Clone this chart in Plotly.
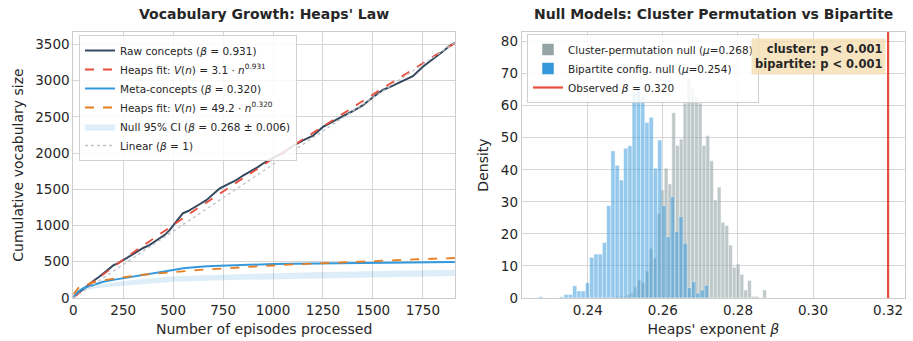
import numpy as np
import plotly.graph_objects as go

# ---------------- data: left panel ----------------
raw_n = [1, 25, 50, 75, 100, 130, 150, 181, 200, 225, 250, 275, 300, 314, 350, 381, 400, 431,
         460, 482, 515, 548, 575, 599, 630, 666, 700, 732, 775, 816, 850, 883, 920, 950, 1000,
         1050, 1100, 1150, 1200, 1250, 1300, 1350, 1400, 1450, 1500, 1550, 1600, 1650, 1700,
         1750, 1800, 1850, 1880, 1910]
raw_v = [15, 70, 130, 185, 235, 293, 340, 409, 450, 480, 523, 570, 615, 638, 690, 730, 765, 822,
         875, 937, 1051, 1167, 1200, 1236, 1290, 1350, 1430, 1511, 1570, 1626, 1690, 1740, 1800,
         1856, 1935, 2000, 2100, 2175, 2240, 2360, 2440, 2510, 2580, 2660, 2770, 2870, 2930,
         2990, 3060, 3190, 3290, 3400, 3470, 3520]

meta_n = [1, 25, 50, 100, 150, 200, 250, 300, 350, 400, 450, 500, 550, 600, 650, 700, 750, 800,
          900, 1000, 1100, 1200, 1300, 1400, 1500, 1600, 1700, 1800, 1910]
meta_v = [10, 90, 135, 185, 225, 250, 271, 295, 320, 340, 362, 386, 410, 425, 435, 442, 447, 452,
          464, 468, 472, 476, 480, 483, 486, 488, 490, 492, 495]

fit_raw = (3.1, 0.931)    # V(n) = a * n^b
fit_meta = (49.2, 0.320)

band_n = [1, 25, 50, 100, 200, 300, 500, 750, 1000, 1250, 1500, 1750, 1910]
band_lo = [10, 70, 100, 130, 160, 185, 225, 245, 260, 275, 288, 298, 305]
band_hi = [20, 100, 135, 170, 215, 250, 300, 325, 342, 358, 372, 383, 390]

# ---------------- data: right panel ----------------
cluster_bin_start = 0.24724
cluster_bin_w = 0.001009
cluster_density = [0.5, 0.5, 0.5, 1.0, 1.7, 3.5, 5.6, 4.8, 8.4, 15.5, 12.4, 26.4, 33.7, 40.5,
                   35.6, 57.8, 47.6, 49.6, 60.8, 68.6, 65.4, 62.6, 60.8, 47.6, 50.6, 42.8, 30.6,
                   34.6, 23.6, 22.6, 16.5, 9.6, 10.6, 7.4, 2.5, 5.5, 0.5, 0.5, 0.0, 2.5]

bip_bin_start = 0.22690
bip_bin_w = 0.001132
bip_density = [0.4, 0, 0, 0, 0, 0.4, 1.1, 1.1, 3.8, 2.2, 2.2, 4.8, 12.7, 13.7, 13.7, 17.3,
               28.8, 45.9, 41.4, 36.8, 46.7, 47.5, 63.9, 65.4, 62.8, 54.8, 56.4, 40.5, 49.3,
               28.8, 19.1, 31.6, 20.7, 25.4, 17.1, 3.2, 5.1, 1.5, 2.5, 4.0]

observed_beta = 0.320
x_ticks_right = [0.24, 0.26, 0.28, 0.30, 0.32]
x_ticks_left = [0, 250, 500, 750, 1000, 1250, 1500, 1750]

# ---------------- figure ----------------
W, H = 913, 341
TXT = "#262626"
GRID = "#d5d5d5"
FONT = "DejaVu Sans"

fig = go.Figure()

n_arr = np.array(raw_n, dtype=float)
fit_raw_v = fit_raw[0] * n_arr ** fit_raw[1]
n_meta_arr = np.array(meta_n, dtype=float)
fit_meta_v = fit_meta[0] * n_meta_arr ** fit_meta[1]

# raw
fig.add_trace(go.Scatter(x=raw_n, y=raw_v, mode="lines", line=dict(color="#34495e", width=2),
                         name="Raw concepts (<i>β</i> = 0.931)", legend="legend",
                         xaxis="x", yaxis="y"))
fig.add_trace(go.Scatter(x=raw_n, y=fit_raw_v, mode="lines",
                         line=dict(color="#e74c3c", width=1.8, dash="dash"),
                         name="Heaps fit: <i>V</i>(<i>n</i>) = 3.1 · <i>n</i><sup>0.931</sup>",
                         legend="legend", xaxis="x", yaxis="y"))
# meta
fig.add_trace(go.Scatter(x=meta_n, y=meta_v, mode="lines", line=dict(color="#3498db", width=2),
                         name="Meta-concepts (<i>β</i> = 0.320)", legend="legend",
                         xaxis="x", yaxis="y"))
fig.add_trace(go.Scatter(x=meta_n, y=fit_meta_v, mode="lines",
                         line=dict(color="#e67e22", width=1.8, dash="dash"),
                         name="Heaps fit: <i>V</i>(<i>n</i>) = 49.2 · <i>n</i><sup>0.320</sup>",
                         legend="legend", xaxis="x", yaxis="y"))
# null band
fig.add_trace(go.Scatter(x=band_n, y=band_lo, mode="lines", line=dict(width=0, color="rgba(52,152,219,0)"),
                         showlegend=False, hoverinfo="skip", xaxis="x", yaxis="y"))
fig.add_trace(go.Scatter(x=band_n, y=band_hi, mode="lines", line=dict(width=0, color="rgba(52,152,219,0)"),
                         fill="tonexty", fillcolor="rgba(52,152,219,0.16)",
                         name="Null 95% CI (<i>β</i> = 0.268 ± 0.006)",
                         legend="legend", xaxis="x", yaxis="y"))
# linear
fig.add_trace(go.Scatter(x=[0, raw_n[-1]], y=[0, raw_v[-1]], mode="lines",
                         line=dict(color="#bdc3c7", width=1.3, dash="dot"),
                         name="Linear (<i>β</i> = 1)", legend="legend", xaxis="x", yaxis="y"))

# histograms
cl_x = [cluster_bin_start + (i + 0.5) * cluster_bin_w for i in range(len(cluster_density))]
bp_x = [bip_bin_start + (i + 0.5) * bip_bin_w for i in range(len(bip_density))]
fig.add_trace(go.Bar(x=cl_x, y=cluster_density, width=cluster_bin_w,
                     marker=dict(color="#95a5a6", opacity=0.6, line=dict(color="white", width=0.5)),
                     name="Cluster-permutation null (<i>μ</i>=0.268)", legend="legend2",
                     xaxis="x2", yaxis="y2"))
fig.add_trace(go.Bar(x=bp_x, y=bip_density, width=bip_bin_w,
                     marker=dict(color="#3498db", opacity=0.52, line=dict(color="white", width=0.5)),
                     name="Bipartite config. null (<i>μ</i>=0.254)", legend="legend2",
                     xaxis="x2", yaxis="y2"))
fig.add_trace(go.Scatter(x=[observed_beta, observed_beta], y=[0, 83], mode="lines",
                         line=dict(color="#e74c3c", width=2.2),
                         name="Observed <i>β</i> = 0.320", legend="legend2", xaxis="x2", yaxis="y2"))

ax_common = dict(showgrid=True, gridcolor=GRID, gridwidth=1, showline=True, linecolor="#cccccc",
                 linewidth=1, mirror=True, zeroline=False, ticks="", automargin=False,
                 tickfont=dict(size=13.5, color=TXT, family=FONT))

Y0 = 1 - 298 / H
Y1 = 1 - 32 / H

fig.update_layout(
    width=W, height=H,
    margin=dict(l=0, r=0, t=0, b=0, autoexpand=False),
    paper_bgcolor="white", plot_bgcolor="white",
    font=dict(family=FONT, color=TXT),
    barmode="overlay",
    showlegend=True,
    xaxis=dict(domain=[73.3 / W, 455 / W], range=[0, 1911], tickvals=x_ticks_left,
               title=dict(text="Number of episodes processed", font=dict(size=14, color=TXT), standoff=6),
               anchor="y", **ax_common),
    yaxis=dict(domain=[Y0, Y1], range=[0, 3670], dtick=500,
               title=dict(text="Cumulative vocabulary size", font=dict(size=14, color=TXT), standoff=8),
               anchor="x", **ax_common),
    xaxis2=dict(domain=[521.7 / W, 905 / W], range=[0.2224, 0.3245], tickvals=x_ticks_right,
                tickformat=".2f",
                title=dict(text="Heaps' exponent <i>β</i>", font=dict(size=14, color=TXT), standoff=6),
                anchor="y2", **ax_common),
    yaxis2=dict(domain=[Y0, Y1], range=[0, 83], dtick=10,
                title=dict(text="Density", font=dict(size=14, color=TXT), standoff=8),
                anchor="x2", **ax_common),
    legend=dict(x=79 / W, y=1 - 35 / H, xanchor="left", yanchor="top", traceorder="normal",
                bgcolor="rgba(255,255,255,0.85)", bordercolor="#d0d0d0", borderwidth=1,
                font=dict(size=10.5, color=TXT, family=FONT), tracegroupgap=0,
                itemwidth=30),
    legend2=dict(x=527 / W, y=1 - 34 / H, xanchor="left", yanchor="top", traceorder="normal",
                 bgcolor="rgba(255,255,255,0.85)", bordercolor="#d0d0d0", borderwidth=1,
                 font=dict(size=10.5, color=TXT, family=FONT), tracegroupgap=0,
                 itemwidth=30),
    annotations=[
        dict(text="<b>Vocabulary Growth: Heaps' Law</b>", x=(73.3 + 455) / 2 / W, y=1 - 14 / H,
             xref="paper", yref="paper", showarrow=False, xanchor="center", yanchor="middle",
             font=dict(size=14, color=TXT, family=FONT)),
        dict(text="<b>Null Models: Cluster Permutation vs Bipartite</b>", x=(521.7 + 905) / 2 / W,
             y=1 - 14 / H, xref="paper", yref="paper", showarrow=False, xanchor="center",
             yanchor="middle", font=dict(size=14, color=TXT, family=FONT)),
        dict(text="<b>cluster: p &lt; 0.001</b><br><b>bipartite: p &lt; 0.001</b>",
             x=886 / W, y=1 - 38 / H, xref="paper", yref="paper", showarrow=False,
             xanchor="right", yanchor="top", align="right",
             bgcolor="rgba(245,222,179,0.8)", borderpad=3, bordercolor="rgba(0,0,0,0)",
             font=dict(size=11.5, color=TXT, family=FONT)),
    ],
)

fig.write_html("out.html", config={"displayModeBar": False},
               post_script="document.body.style.margin='0';document.body.style.padding='0';")
